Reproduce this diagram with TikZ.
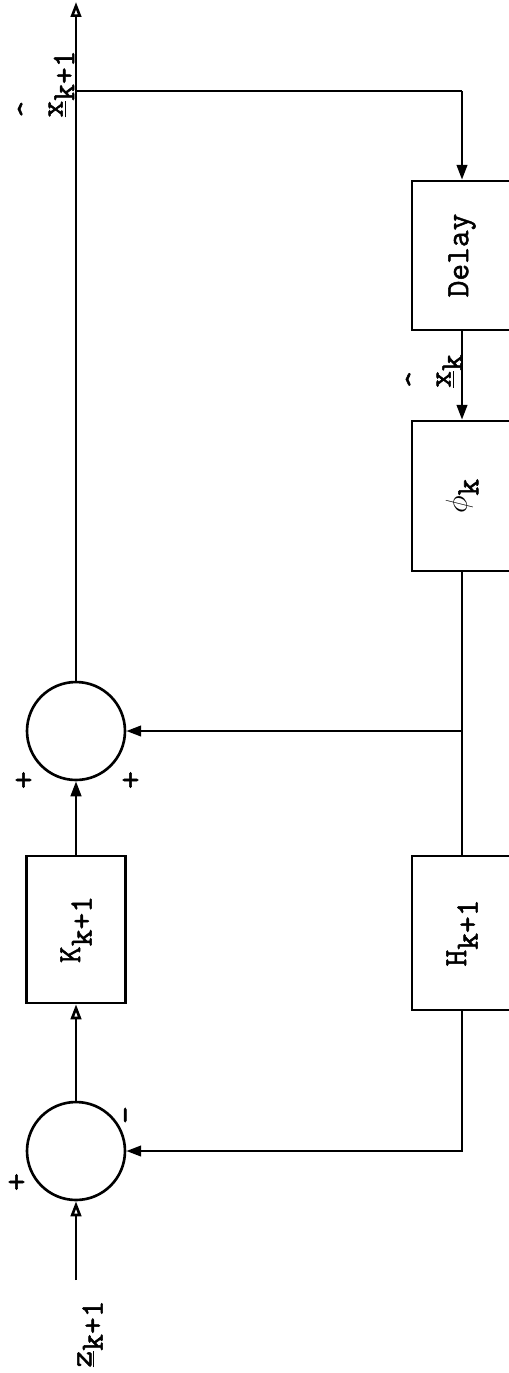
\documentclass[tikz,border=0pt]{standalone}
\usepackage{fontspec}
\setmonofont{Latin Modern Mono}[FakeBold=1.6]
\usetikzlibrary{arrows.meta}
\newcommand{\sub}[1]{\raisebox{-6.5pt}{#1}}
\newcommand{\hatx}{\shortstack{\char`\^\\[3pt]\underline{x}}}
\begin{document}
\begin{tikzpicture}[x=0.02cm,y=-0.02cm,
  conn/.style={line width=1.5pt},
  arr/.style={conn,-{Triangle[length=8.5pt,width=6pt]}},
  oarr/.style={conn,-{Triangle[open,length=8.5pt,width=6pt,fill=white]}},
  txt/.style={rotate=90,font=\fontsize{18.5}{22}\selectfont\ttfamily,inner sep=0pt},
  sign/.style={rotate=90,font=\fontsize{20}{22}\selectfont\ttfamily,inner sep=0pt},
  blockbox/.style={draw,line width=1.5pt,rectangle,rotate=90,inner sep=0pt,
     font=\fontsize{18.5}{22}\selectfont\ttfamily},
  sumc/.style={draw,circle,line width=1.5pt,minimum size=1.96cm,inner sep=0pt}]
\clip (0,0) rectangle (509,1373);
\fill[white] (0,0) rectangle (509,1373);
% summing junctions
\node[sumc] (c1) at (76,1151) {};
\node[sumc] (c2) at (76,731) {};
% blocks (rotated: width = vertical extent)
\node[blockbox,minimum width=2.94cm,minimum height=1.98cm] (K) at (76,929.5) {K\sub{k+1}};
\node[blockbox,minimum width=2.98cm,minimum height=2cm] (D) at (462,255.5) {Delay};
\node[blockbox,minimum width=3cm,minimum height=2cm] (P) at (462,496) {$\phi$\sub{k}};
\node[blockbox,minimum width=3.08cm,minimum height=2cm] (H) at (462,933) {H\sub{k+1}};
% coordinates
\coordinate (zin) at (76,1280);
\coordinate (out) at (76,2);
\coordinate (br) at (76,91);
\coordinate (brR) at (462,91);
\coordinate (j) at (462,731);
\coordinate (hc) at (462,1151);
% connectors
\draw[oarr] (zin) -- (c1);
\draw[oarr] (c1) -- (K);
\draw[arr] (K) -- (c2);
\draw[oarr] (c2) -- (out);
\draw[conn] (br) -- (brR);
\draw[arr] (brR) -- (D);
\draw[arr] (D) -- (P);
\draw[conn] (P) -- (H);
\draw[arr] (j) -- (c2);
\draw[arr] (H) -- (hc) -- (c1);
% labels
\node[txt] (lz) at (90,1334) {\underline{z}\sub{k+1}};
\node[txt] (lxo) at (46,84) {\hatx\sub{k+1}};
\node[txt] (lxk) at (434,371) {\hatx\sub{k}};
\node[sign] (p1) at (18,1182) {+};
\node[sign] (m1) at (130,1115) {-};
\node[sign] (p2) at (25,780) {+};
\node[sign] (p3) at (132,780) {+};
\end{tikzpicture}
\end{document}
